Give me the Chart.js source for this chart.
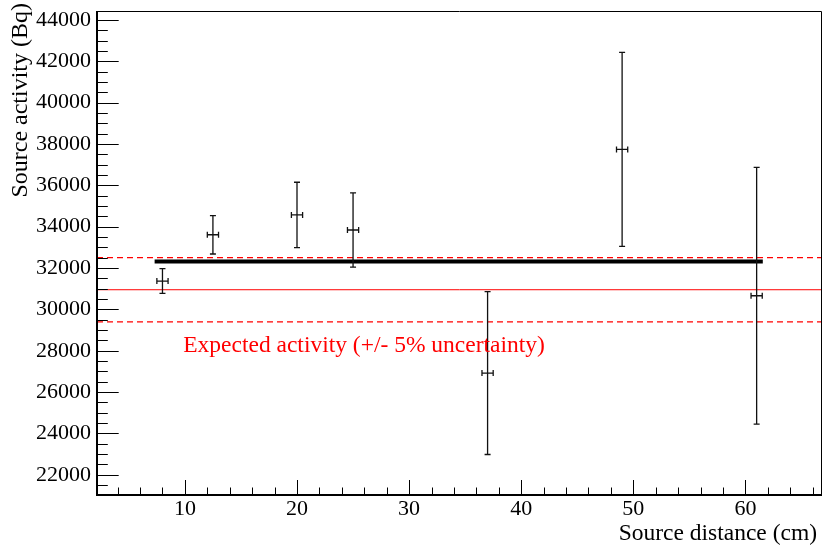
<!DOCTYPE html>
<html>
<head>
<meta charset="utf-8">
<script src="https://cdn.jsdelivr.net/npm/chart.js@4.4.0/dist/chart.umd.min.js"></script>
<style>
    html, body { margin: 0; padding: 0; background: #ffffff; }
    #wrap { width: 823px; height: 548px; }
</style>
</head>
<body>
<div id="wrap"><canvas id="activity-chart" width="823" height="548"></canvas></div>
<script>
// measured source activity vs distance
const distances = [8, 12.5, 20, 25, 37, 49, 61];
const distanceErrors = [0.5, 0.5, 0.5, 0.5, 0.5, 0.5, 0.5];
const activities = [31370, 33610, 34570, 33840, 26920, 37740, 30660];
const activityErrors = [600, 930, 1580, 1800, 3940, 4690, 6210];

// constant fit over the measured range
const fitRange = [7.3, 61.55];
const fitValue = 32320;

// expected activity with +/- 5% band
const expectedActivity = 30950;
const expectedLow = 29400;
const expectedHigh = 32500;

const xRange = [2.16, 66.83];
const yRange = [21020, 44435];
const xTickValues = [10, 20, 30, 40, 50, 60];
const yTickValues = [22000, 24000, 26000, 28000, 30000, 32000, 34000, 36000, 38000, 40000, 42000, 44000];

const serif = "Liberation Serif";
const canvas = document.querySelector("#activity-chart");


function hLine(value, from, to) {
    return [{ x: from, y: value }, { x: to, y: value }];
};


// ROOT style frame with inward major/minor ticks
const rootFrame = {
    id: 'rootFrame',
    afterDatasetsDraw(chart) {
        const ctx = chart.ctx;
        const area = chart.chartArea;
        const xs = chart.scales.x;
        const ys = chart.scales.y;
        ctx.save();
        ctx.strokeStyle = '#000';
        ctx.lineWidth = 1;

        // x ticks: major every 10, minor every 2
        for (let v = Math.ceil(xs.min / 2) * 2; v <= xs.max; v += 2) {
            const px = Math.round(xs.getPixelForValue(v)) + 0.5;
            const len = (v % 10 === 0) ? 15 : 7.5;
            ctx.beginPath();
            ctx.moveTo(px, area.bottom);
            ctx.lineTo(px, area.bottom - len);
            ctx.stroke();
        };
        // y ticks: major every 2000, minor every 500
        for (let v = Math.ceil(ys.min / 500) * 500; v <= ys.max; v += 500) {
            const py = Math.round(ys.getPixelForValue(v)) + 0.5;
            const len = (v % 2000 === 0) ? 21.7 : 10.8;
            ctx.beginPath();
            ctx.moveTo(area.left, py);
            ctx.lineTo(area.left + len, py);
            ctx.stroke();
        };

        // frame
        ctx.beginPath();
        ctx.moveTo(area.left + 0.5, area.top + 0.5);
        ctx.lineTo(area.right - 0.5, area.top + 0.5);
        ctx.lineTo(area.right - 0.5, area.bottom);
        ctx.stroke();
        ctx.lineWidth = 2;
        ctx.beginPath();
        ctx.moveTo(area.left, area.top);
        ctx.lineTo(area.left, area.bottom);
        ctx.lineTo(area.right, area.bottom);
        ctx.stroke();
        ctx.restore();
    }
};


// error bars with small end caps
const errorBars = {
    id: 'errorBars',
    afterDatasetsDraw(chart) {
        const ctx = chart.ctx;
        const xs = chart.scales.x;
        const ys = chart.scales.y;
        ctx.save();
        ctx.strokeStyle = '#111';
        ctx.lineWidth = 1.3;
        for (let i = 0; i < distances.length; i++) {
            const px = xs.getPixelForValue(distances[i]);
            const py = ys.getPixelForValue(activities[i]);
            const top = ys.getPixelForValue(activities[i] + activityErrors[i]);
            const bottom = ys.getPixelForValue(activities[i] - activityErrors[i]);
            const left = xs.getPixelForValue(distances[i] - distanceErrors[i]);
            const right = xs.getPixelForValue(distances[i] + distanceErrors[i]);
            ctx.beginPath();
            ctx.moveTo(px, top);
            ctx.lineTo(px, bottom);
            ctx.moveTo(px - 3, top);
            ctx.lineTo(px + 3, top);
            ctx.moveTo(px - 3, bottom);
            ctx.lineTo(px + 3, bottom);
            ctx.moveTo(left, py);
            ctx.lineTo(right, py);
            ctx.moveTo(left, py - 3);
            ctx.lineTo(left, py + 3);
            ctx.moveTo(right, py - 3);
            ctx.lineTo(right, py + 3);
            ctx.stroke();
        };
        ctx.restore();
    }
};


// axis titles and the red label
const rootText = {
    id: 'rootText',
    afterDraw(chart) {
        const ctx = chart.ctx;
        const xs = chart.scales.x;
        const ys = chart.scales.y;
        ctx.save();
        ctx.fillStyle = '#000';
        ctx.textBaseline = 'alphabetic';

        ctx.font = "23.5px '" + serif + "'";
        ctx.textAlign = 'right';
        ctx.fillText('Source distance (cm)', 817, 540);

        ctx.save();
        ctx.font = "24px '" + serif + "'";
        ctx.translate(27, 3);
        ctx.rotate(-Math.PI / 2);
        ctx.textAlign = 'right';
        ctx.fillText('Source activity (Bq)', 0, 0);
        ctx.restore();

        ctx.font = "23.5px '" + serif + "'";
        ctx.fillStyle = '#ff0000';
        ctx.textAlign = 'left';
        ctx.fillText('Expected activity (+/- 5% uncertainty)', xs.getPixelForValue(9.85), ys.getPixelForValue(27930));
        ctx.restore();
    }
};


const chartConfig = {
    type: 'scatter',
    data: {
        datasets: [
            {
                label: 'Expected',
                data: hLine(expectedActivity, xRange[0], xRange[1]),
                showLine: true,
                borderColor: '#ff0000',
                borderWidth: 1,
                pointRadius: 0,
            },
            {
                label: 'Expected +5%',
                data: hLine(expectedHigh, xRange[0], xRange[1]),
                showLine: true,
                borderColor: '#ff0000',
                borderWidth: 1.2,
                borderDash: [6, 4],
                pointRadius: 0,
            },
            {
                label: 'Expected -5%',
                data: hLine(expectedLow, xRange[0], xRange[1]),
                showLine: true,
                borderColor: '#ff0000',
                borderWidth: 1.2,
                borderDash: [6, 4],
                pointRadius: 0,
            },
            {
                label: 'Fit',
                data: hLine(fitValue, fitRange[0], fitRange[1]),
                showLine: true,
                borderColor: '#000000',
                borderWidth: 4,
                pointRadius: 0,
            },
            {
                label: 'Measured',
                data: distances.map((d, i) => ({ x: d, y: activities[i] })),
                pointRadius: 0,
            },
        ]
    },
    options: {
        responsive: false,
        animation: false,
        devicePixelRatio: 1,
        layout: {
            padding: { top: 11, right: 1, left: 0, bottom: 0 }
        },
        plugins: {
            legend: { display: false },
            tooltip: { enabled: false },
        },
        scales: {
            x: {
                type: 'linear',
                min: xRange[0],
                max: xRange[1],
                afterBuildTicks: function (scale) {
                    scale.ticks = xTickValues.map(v => ({ value: v }));
                },
                afterFit: function (scale) {
                    scale.height = 53;
                    scale.paddingLeft = 0;
                    scale.paddingRight = 0;
                },
                grid: { display: false, drawTicks: false },
                border: { display: false },
                ticks: {
                    padding: 1,
                    maxRotation: 0,
                    color: '#000',
                    font: { family: serif, size: 22 },
                },
            },
            y: {
                type: 'linear',
                min: yRange[0],
                max: yRange[1],
                afterBuildTicks: function (scale) {
                    scale.ticks = yTickValues.map(v => ({ value: v }));
                },
                afterFit: function (scale) {
                    scale.width = 97;
                    scale.paddingTop = 0;
                    scale.paddingBottom = 0;
                },
                grid: { display: false, drawTicks: false },
                border: { display: false },
                ticks: {
                    padding: 6,
                    color: '#000',
                    font: { family: serif, size: 22 },
                    callback: function (value) {
                        return String(value);
                    }
                },
            },
        }
    },
    plugins: [errorBars, rootFrame, rootText]
};

const activityChart = new Chart(canvas, chartConfig);
</script>
</body>
</html>
